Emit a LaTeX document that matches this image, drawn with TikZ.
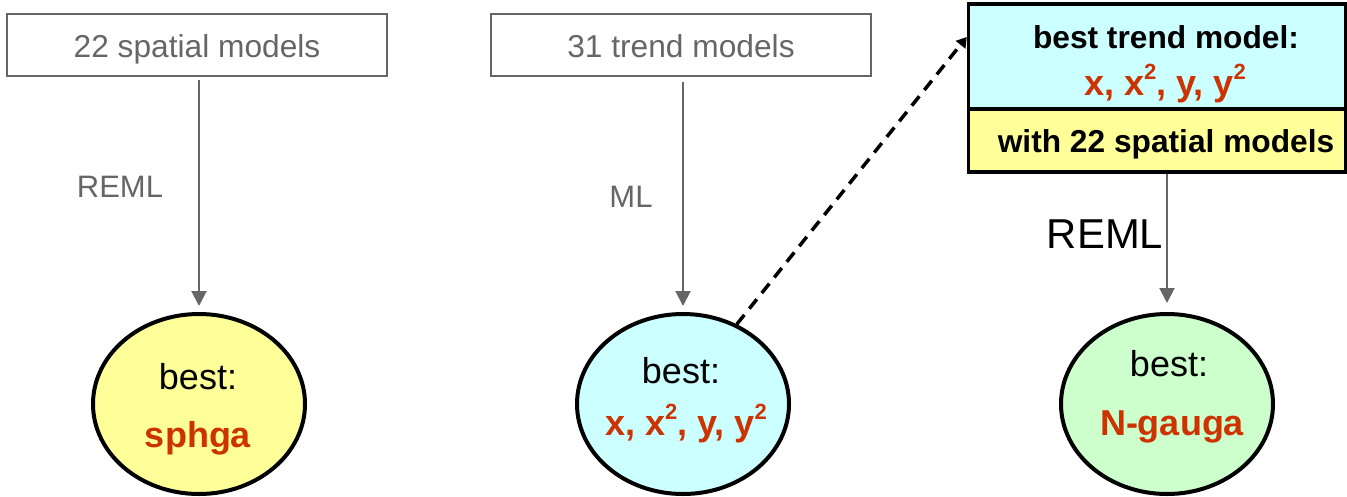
\documentclass[tikz,border=0pt]{standalone}
\usepackage{fontspec}
\setmainfont{Liberation Sans}
\usetikzlibrary{shapes.geometric,arrows.meta}
\definecolor{grayline}{HTML}{666666}
\definecolor{redtxt}{HTML}{CC3300}
\definecolor{yellowfill}{HTML}{FFFF99}
\definecolor{cyanfill}{HTML}{CCFFFF}
\definecolor{greenfill}{HTML}{CCFFCC}
\newcommand{\sqr}{\raisebox{0.42em}{\fontsize{22}{22}\selectfont 2}}
\tikzset{
  inbox/.style={draw=grayline, line width=2pt, rectangle, inner sep=0pt,
    minimum width=380pt, minimum height=62pt},
  inboxtxt/.style={text=grayline, font=\fontsize{31.7}{38}\selectfont, anchor=base, inner sep=0pt},
  bestell/.style={draw=black, line width=4pt, ellipse, inner sep=0pt,
    minimum width=212pt, minimum height=180pt},
  besttxt/.style={font=\fontsize{36}{40}\selectfont, anchor=base, inner sep=0pt},
  redtxtstyle/.style={text=redtxt, font=\bfseries\fontsize{36}{40}\selectfont, anchor=base, inner sep=0pt},
  graylabel/.style={text=grayline, font=\fontsize{31}{36}\selectfont, anchor=base, inner sep=0pt},
  grayarrow/.style={draw=grayline, line width=2pt, -{Triangle[width=15pt,length=15pt]}},
  dasharrow/.style={draw=black, line width=3.5pt, dash pattern=on 12pt off 8pt,
    -{Triangle[width=12pt,length=10pt]}},
  resbox/.style={draw=black, line width=3.5pt, rectangle, inner sep=0pt, minimum width=377pt},
  boldtxt/.style={font=\bfseries\fontsize{31.7}{38}\selectfont, anchor=base, inner sep=0pt},
}
\begin{document}
\begin{tikzpicture}[x=1pt,y=-1pt]
\useasboundingbox (0,0) rectangle (1347,496);
% input boxes
\node[inbox] (sp) at (197,45) {};
\node[inboxtxt] (sptxt) at (197,57) {22 spatial models};
\node[inbox] (tr) at (681,45) {};
\node[inboxtxt] (trtxt) at (681,57) {31 trend models};
% result ellipses
\node[bestell, fill=yellowfill] (e1) at (199,404) {};
\node[besttxt] (e1a) at (198,389) {best:};
\node[redtxtstyle] (e1b) at (198,447) {sphga};
\node[bestell, fill=cyanfill] (e2) at (683,404) {};
\node[besttxt] (e2a) at (681,383) {best:};
\node[redtxtstyle] (e2b) at (686,435) {x, x\sqr, y, y\sqr};
\node[bestell, fill=greenfill] (e3) at (1167,404) {};
\node[besttxt] (e3a) at (1169,376) {best:};
\node[redtxtstyle] (e3b) at (1172,435) {N-gauga};
% combined box
\node[resbox, fill=cyanfill, minimum height=105pt] (trendbox) at (1157,56.5) {};
\node[resbox, fill=yellowfill, minimum height=63pt] (spbox) at (1157,140.5) {};
\node[boldtxt] (t1) at (1166,48) {best trend model:};
\node[redtxtstyle] (t2) at (1165,95) {x, x\sqr, y, y\sqr};
\node[boldtxt] (t3) at (1166,152) {with 22 spatial models};
% labels
\node[graylabel] (l1) at (120,197) {REML};
\node[graylabel] (l2) at (631,207) {ML};
\node[font=\fontsize{41.8}{46}\selectfont, anchor=base, inner sep=0pt] (l3) at (1105,248) {REML};
% connectors
\draw[grayarrow, shorten <=3pt, shorten >=6pt] (sp.south -| e1.north) -- (e1.north);
\draw[grayarrow, shorten <=5pt, shorten >=6pt] (tr.south -| e2.north) -- (e2.north);
\draw[grayarrow, shorten <=0pt, shorten >=9pt] (spbox.south -| e3.north) -- (e3.north);
\draw[dasharrow] (e2.56) -- ([yshift=19.5pt]trendbox.west);
\end{tikzpicture}
\end{document}
